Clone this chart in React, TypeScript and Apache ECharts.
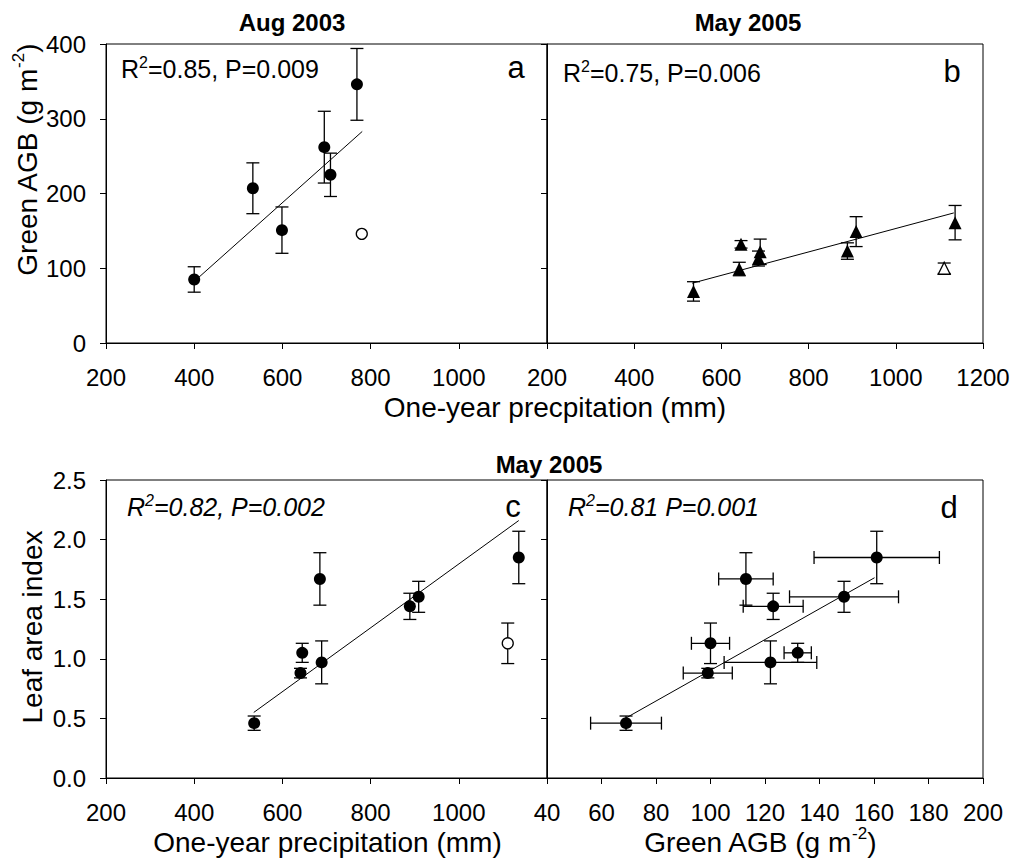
import React, { useEffect, useRef } from "react";
import * as echarts from "echarts";

// ---------- Panel a : Aug 2003 ----------
const aPrecip = [400, 533, 599, 695, 709, 769];
const aAgb = [85, 207, 151, 262, 225, 346];
const aAgbErr = [17, 34, 31, 48, 29, 48];
const aOpenPrecip = [780];
const aOpenAgb = [146];
const aFitX = [405, 781];
const aFitY = [85, 283];

// ---------- May 2005 sites (panels b, c, d) ----------
const sitePrecip = [536, 641, 645, 685, 689, 889, 909, 1136];
const siteAgb = [69, 99, 132, 113, 122, 123, 149, 161];
const siteAgbErr = [13, 9, 5, 10, 17, 11, 20, 23];
const siteLai = [0.46, 0.88, 1.05, 1.67, 0.97, 1.44, 1.52, 1.85];
const siteLaiErr = [0.06, 0.04, 0.08, 0.22, 0.18, 0.11, 0.13, 0.22];
const openPrecip = [1111];
const openAgb = [100];
const openAgbErr = [7];
const openLai = [1.13];
const openLaiErr = [0.17];

const bFitX = [533, 1133];
const bFitY = [80, 174];
const cFitX = [535, 1136];
const cFitY = [0.55, 2.16];
const dFitX = [68.7, 160.2];
const dFitY = [0.5, 1.68];

const FONT = "'Liberation Sans', Arial, Helvetica, sans-serif";

function xAxis(gridIndex: number, min: number, max: number, interval: number, hideMax: boolean) {
  return {
    type: "value",
    gridIndex,
    min,
    max,
    interval,
    axisLine: { show: true, onZero: false, lineStyle: { color: "#000", width: 1 } },
    axisTick: { show: true, inside: false, length: 6, lineStyle: { color: "#000", width: 1 } },
    axisLabel: {
      show: true,
      margin: 22,
      color: "#000",
      fontSize: 24,
      fontFamily: FONT,
      showMaxLabel: hideMax ? false : true,
      showMinLabel: true,
      formatter: (v: number) => String(v),
    },
    splitLine: { show: false },
  };
}

function yAxis(gridIndex: number, min: number, max: number, interval: number, showLabels: boolean, decimals: number) {
  return {
    type: "value",
    gridIndex,
    min,
    max,
    interval,
    axisLine: { show: true, onZero: false, lineStyle: { color: "#000", width: 1 } },
    axisTick: { show: true, inside: false, length: 6, lineStyle: { color: "#000", width: 1 } },
    axisLabel: {
      show: showLabels,
      margin: 20,
      color: "#000",
      fontSize: 24,
      fontFamily: FONT,
      formatter: (v: number) => v.toFixed(decimals),
    },
    splitLine: { show: false },
  };
}

function errSeries(idx: number, data: number[][]) {
  return {
    type: "custom",
    xAxisIndex: idx,
    yAxisIndex: idx,
    silent: true,
    z: 2,
    encode: { x: 0, y: 1 },
    data,
    renderItem: (_p: any, api: any) => {
      const x = api.value(0);
      const y = api.value(1);
      const xe = api.value(2);
      const ye = api.value(3);
      const cap = 6.5;
      const style = { stroke: "#000", lineWidth: 1.3 };
      const children: any[] = [];
      if (ye > 0) {
        const t = api.coord([x, y + ye]);
        const b = api.coord([x, y - ye]);
        children.push({ type: "line", shape: { x1: t[0], y1: t[1], x2: b[0], y2: b[1] }, style });
        children.push({ type: "line", shape: { x1: t[0] - cap, y1: t[1], x2: t[0] + cap, y2: t[1] }, style });
        children.push({ type: "line", shape: { x1: b[0] - cap, y1: b[1], x2: b[0] + cap, y2: b[1] }, style });
      }
      if (xe > 0) {
        const l = api.coord([x - xe, y]);
        const r = api.coord([x + xe, y]);
        children.push({ type: "line", shape: { x1: l[0], y1: l[1], x2: r[0], y2: r[1] }, style });
        children.push({ type: "line", shape: { x1: l[0], y1: l[1] - cap, x2: l[0], y2: l[1] + cap }, style });
        children.push({ type: "line", shape: { x1: r[0], y1: r[1] - cap, x2: r[0], y2: r[1] + cap }, style });
      }
      return { type: "group", children };
    },
  };
}

function scatter(idx: number, data: number[][], symbol: string, size: number, open: boolean) {
  return {
    type: "scatter",
    xAxisIndex: idx,
    yAxisIndex: idx,
    symbol,
    symbolSize: size,
    silent: true,
    z: 4,
    itemStyle: open
      ? { color: "#fff", borderColor: "#000", borderWidth: 1.3, opacity: 1 }
      : { color: "#000", opacity: 1 },
    data,
  };
}

function fit(idx: number, xs: number[], ys: number[]) {
  return {
    type: "line",
    xAxisIndex: idx,
    yAxisIndex: idx,
    silent: true,
    showSymbol: false,
    symbol: "none",
    z: 3,
    lineStyle: { color: "#000", width: 1 },
    data: xs.map((x, i) => [x, ys[i]]),
  };
}

function statText(x: number, y: number, r2: string, rest: string, italic: boolean) {
  const fs = italic ? "italic" : "normal";
  return {
    type: "text",
    x,
    y,
    silent: true,
    style: {
      text: `{n|R}{s|2}{n|${r2}${rest}}`,
      align: "left",
      verticalAlign: "top",
      fill: "#000",
      rich: {
        n: { fontSize: 25, lineHeight: 30, fontFamily: FONT, fontStyle: fs, fill: "#000" },
        s: { fontSize: 16, lineHeight: 14, verticalAlign: "top", fontFamily: FONT, fontStyle: fs, fill: "#000" },
      },
    },
  };
}

function plainText(x: number, y: number, text: string, size: number, bold: boolean, rotation = 0) {
  return {
    type: "text",
    x,
    y,
    rotation,
    silent: true,
    style: {
      text,
      align: "center",
      verticalAlign: "middle",
      fill: "#000",
      fontSize: size,
      fontWeight: bold ? "bold" : "normal",
      fontFamily: FONT,
    },
  };
}

function agbTitle(x: number, y: number, rotation: number) {
  return {
    type: "text",
    x,
    y,
    rotation,
    silent: true,
    style: {
      text: "{n|Green AGB (g m}{s|-2}{n|)}",
      align: "center",
      verticalAlign: "middle",
      fill: "#000",
      rich: {
        n: { fontSize: 28, lineHeight: 34, fontFamily: FONT, fill: "#000" },
        s: { fontSize: 17, lineHeight: 22, verticalAlign: "top", fontFamily: FONT, fill: "#000" },
      },
    },
  };
}

function buildOption() {
  const grid = { show: true, borderColor: "#000", borderWidth: 1, backgroundColor: "transparent" };
  return {
    animation: false,
    backgroundColor: "#fff",
    grid: [
      { ...grid, left: 106, top: 44, width: 441, height: 299 },
      { ...grid, left: 547, top: 44, width: 436, height: 299 },
      { ...grid, left: 106, top: 480, width: 441, height: 298 },
      { ...grid, left: 547, top: 480, width: 436, height: 298 },
    ],
    xAxis: [
      xAxis(0, 200, 1200, 200, true),
      xAxis(1, 200, 1200, 200, false),
      xAxis(2, 200, 1200, 200, true),
      xAxis(3, 40, 200, 20, false),
    ],
    yAxis: [
      yAxis(0, 0, 400, 100, true, 0),
      yAxis(1, 0, 400, 100, false, 0),
      yAxis(2, 0, 2.5, 0.5, true, 1),
      yAxis(3, 0, 2.5, 0.5, false, 1),
    ],
    series: [
      // a
      errSeries(0, aPrecip.map((x, i) => [x, aAgb[i], 0, aAgbErr[i]])),
      fit(0, aFitX, aFitY),
      scatter(0, aPrecip.map((x, i) => [x, aAgb[i]]), "circle", 12, false),
      scatter(0, aOpenPrecip.map((x, i) => [x, aOpenAgb[i]]), "circle", 11, true),
      // b
      errSeries(1, sitePrecip.map((x, i) => [x, siteAgb[i], 0, siteAgbErr[i]])),
      errSeries(1, openPrecip.map((x, i) => [x, openAgb[i], 0, openAgbErr[i]])),
      fit(1, bFitX, bFitY),
      scatter(1, sitePrecip.map((x, i) => [x, siteAgb[i]]), "triangle", 13, false),
      scatter(1, openPrecip.map((x, i) => [x, openAgb[i]]), "triangle", 12, true),
      // c
      errSeries(2, sitePrecip.map((x, i) => [x, siteLai[i], 0, siteLaiErr[i]])),
      errSeries(2, openPrecip.map((x, i) => [x, openLai[i], 0, openLaiErr[i]])),
      fit(2, cFitX, cFitY),
      scatter(2, sitePrecip.map((x, i) => [x, siteLai[i]]), "circle", 12, false),
      scatter(2, openPrecip.map((x, i) => [x, openLai[i]]), "circle", 11, true),
      // d
      errSeries(3, siteAgb.map((x, i) => [x, siteLai[i], siteAgbErr[i], siteLaiErr[i]])),
      errSeries(3, openAgb.map((x, i) => [x, openLai[i], openAgbErr[i], openLaiErr[i]])),
      fit(3, dFitX, dFitY),
      scatter(3, siteAgb.map((x, i) => [x, siteLai[i]]), "circle", 12, false),
      scatter(3, openAgb.map((x, i) => [x, openLai[i]]), "circle", 12, false),
    ],
    graphic: [
      plainText(292, 22.6, "Aug 2003", 24, true),
      plainText(748, 22.6, "May 2005", 24, true),
      plainText(549, 464.6, "May 2005", 24, true),
      statText(121, 54, "=0.85, ", "P=0.009", false),
      statText(563, 58, "=0.75, ", "P=0.006", false),
      statText(127, 492, "=0.82, ", "P=0.002", true),
      statText(568, 492, "=0.81 ", "P=0.001", true),
      plainText(516, 67, "a", 31, false),
      plainText(952, 71, "b", 31, false),
      plainText(513, 506, "c", 31, false),
      plainText(949, 507, "d", 31, false),
      plainText(555, 407, "One-year precpitation (mm)", 28, false),
      plainText(327.5, 842, "One-year precipitation (mm)", 28, false),
      agbTitle(760, 842, 0),
      agbTitle(27, 160, Math.PI / 2),
      plainText(32, 627, "Leaf area index", 28, false, Math.PI / 2),
    ],
  };
}

export default function App() {
  const ref = useRef<HTMLDivElement>(null);
  useEffect(() => {
    const chart = echarts.init(ref.current as HTMLDivElement, null, { renderer: "svg" });
    chart.setOption(buildOption() as any);
    return () => chart.dispose();
  }, []);
  return (
    <div
      ref={ref}
      style={{ position: "absolute", left: 0, top: 0, width: 1015, height: 863, background: "#fff" }}
    />
  );
}
